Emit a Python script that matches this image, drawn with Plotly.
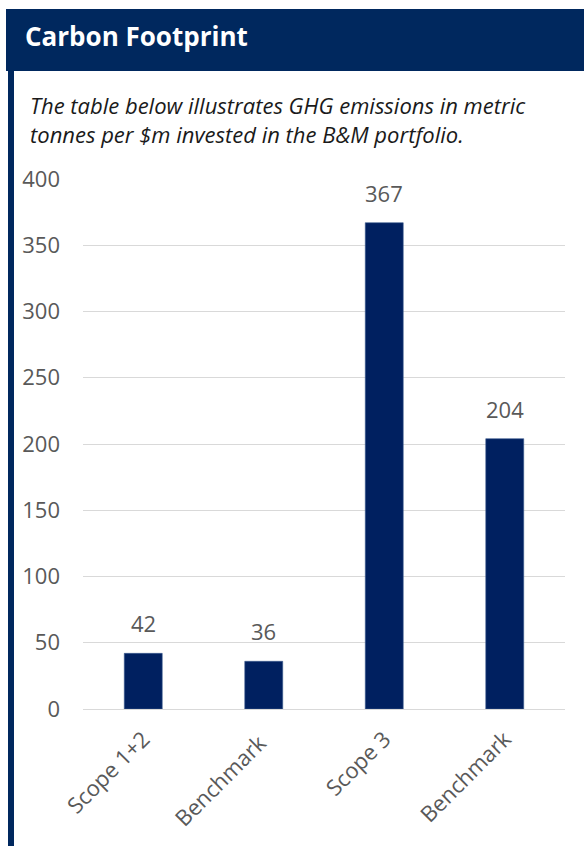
import plotly.graph_objects as go

# Emissions intensity (tCO2e per $m invested)
categories = ["Scope 1+2", "Benchmark ", "Scope 3", "Benchmark"]
values = [42, 36, 367, 204]
y_ticks = [0, 50, 100, 150, 200, 250, 300, 350, 400]

NAVY = "#002060"
HEADER = "#00285e"
GREY = "#595959"
FONT = "Open Sans"

W, H = 584, 846
L, R, T, B = 83, 19, 179, 137
plot_w = W - L - R
plot_h = H - T - B


def px_x(x):
    return (x - L) / plot_w


def px_y(y):
    return (H - B - y) / plot_h


fig = go.Figure(
    go.Bar(
        x=categories,
        y=values,
        marker=dict(color=NAVY, line=dict(color="#3b5a8f", width=0.6)),
        width=0.315,
        hoverinfo="skip",
    )
)

for c, v in zip(categories, values):
    fig.add_annotation(
        x=c, y=v, text=str(v), showarrow=False, yanchor="bottom", yshift=13,
        font=dict(family=FONT, size=22, color=GREY),
    )

# header band and left frame
fig.add_shape(type="rect", xref="paper", yref="paper",
              x0=px_x(6), x1=px_x(590), y0=px_y(71), y1=px_y(9),
              fillcolor=HEADER, line=dict(width=0), layer="below")
fig.add_shape(type="rect", xref="paper", yref="paper",
              x0=px_x(8), x1=px_x(14), y0=px_y(850), y1=px_y(71),
              fillcolor=HEADER, line=dict(width=0), layer="below")

fig.add_annotation(
    xref="paper", yref="paper", x=px_x(23), y=px_y(36),
    xanchor="left", yanchor="middle", showarrow=False,
    text="<b>Carbon Footprint</b>",
    font=dict(family=FONT, size=26, color="white"),
)
fig.add_annotation(
    xref="paper", yref="paper", x=px_x(28), y=px_y(88),
    xanchor="left", yanchor="top", showarrow=False, align="left",
    text="<i>The table below illustrates GHG emissions in metric<br>"
         "tonnes per $m invested in the B&M portfolio.</i>",
    font=dict(family=FONT, size=22, color="#1a1a1a"),
)

fig.update_layout(
    width=W, height=H,
    margin=dict(l=L, r=R, t=T, b=B),
    paper_bgcolor="white", plot_bgcolor="white",
    showlegend=False,
    font=dict(family=FONT, color=GREY),
    bargap=0.685,
)
fig.update_yaxes(
    range=[0, 400], tickvals=y_ticks, showgrid=True, gridcolor="#d9d9d9",
    gridwidth=1, zeroline=True, zerolinecolor="#d9d9d9", zerolinewidth=1,
    tickfont=dict(family=FONT, size=22, color=GREY), ticks="", ticklabelstandoff=22,
)
fig.update_xaxes(
    tickangle=-45, tickfont=dict(family=FONT, size=22, color=GREY),
    showline=False, ticks="", ticklabelstandoff=12,
)

fig.write_html("out.html")
